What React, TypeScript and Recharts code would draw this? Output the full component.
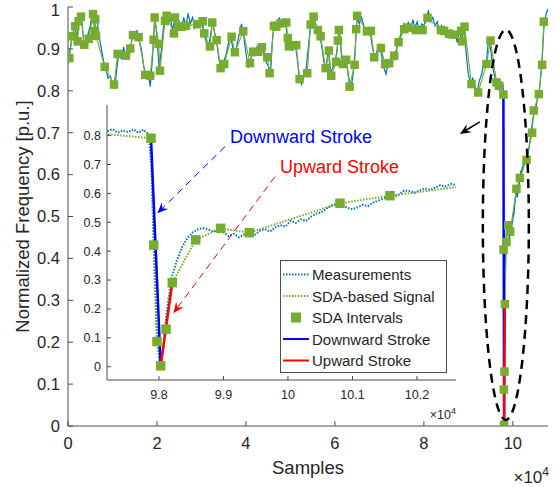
import React from 'react';
import { ComposedChart, Line, XAxis, YAxis, ReferenceLine, ReferenceDot, Legend, CartesianGrid } from 'recharts';

// measured frequency, one value every 500 samples (0 .. 97000)
const MEAS_STEP = 500;
const measCoarse = [
  0.865, 0.9, 0.935, 0.95, 0.925, 0.97, 0.985, 0.92, 0.905, 0.935,
  0.955, 0.99, 0.95, 0.975, 0.93, 0.9, 0.87, 0.855, 0.83, 0.835,
  0.82, 0.805, 0.855, 0.895, 0.875, 0.905, 0.875, 0.91, 0.89, 0.94,
  0.925, 0.945, 0.92, 0.9, 0.86, 0.835, 0.845, 0.81, 0.88, 0.975,
  0.93, 0.85, 0.9, 0.955, 0.985, 0.96, 0.975, 0.945, 0.97, 0.95,
  0.965, 0.945, 0.975, 0.955, 0.985, 0.96, 0.975, 0.95, 0.965, 0.955,
  0.97, 0.94, 0.92, 0.895, 0.93, 0.965, 0.935, 0.91, 0.87, 0.845,
  0.87, 0.885, 0.91, 0.935, 0.905, 0.885, 0.91, 0.935, 0.96, 0.93,
  0.89, 0.855, 0.87, 0.9, 0.885, 0.905, 0.885, 0.91, 0.89, 0.87,
  0.86, 0.835, 0.93, 0.965, 0.945, 0.975, 0.955, 0.97, 0.955, 0.91,
  0.92, 0.895, 0.915, 0.88, 0.83, 0.815, 0.835, 0.85, 0.9, 0.955,
  0.985, 0.965, 0.95, 0.935, 0.91, 0.87, 0.85, 0.9, 0.84, 0.855,
  0.865, 0.9, 0.95, 0.88, 0.865, 0.875, 0.84, 0.805, 0.83, 0.89,
  0.975, 0.96, 0.975, 0.955, 0.94, 0.95, 0.935, 0.9, 0.875, 0.895,
  0.91, 0.885, 0.855, 0.84, 0.87, 0.86, 0.885, 0.875, 0.905, 0.925,
  0.94, 0.96, 0.945, 0.965, 0.94, 0.97, 0.95, 0.965, 0.94, 0.96,
  0.955, 0.975, 0.99, 0.965, 0.975, 0.955, 0.965, 0.94, 0.955, 0.935,
  0.95, 0.925, 0.945, 0.93, 0.94, 0.915, 0.945, 0.92, 0.96, 0.89,
  0.84, 0.815, 0.83, 0.81, 0.8, 0.825, 0.84, 0.87, 0.86, 0.92,
  0.9, 0.855, 0.83, 0.82, 0.8,
];

// zoomed part around the disturbance
const measFineX = [
  97200, 97280, 97360, 97440, 97520, 97600, 97680, 97760, 97840, 97880,
  97920, 97960, 98000, 98030, 98060, 98100, 98150, 98200, 98280, 98360,
  98440, 98520, 98600, 98680, 98760, 98840, 98920, 99000, 99080, 99160,
  99240, 99320, 99400, 99480, 99560, 99640, 99720, 99800, 99880, 99960,
  100040, 100120, 100200, 100280, 100360, 100440, 100520, 100600, 100680, 100760,
  100840, 100920, 101000, 101080, 101160, 101240, 101320, 101400, 101480, 101560,
  101640, 101720, 101800, 101880, 101960, 102040, 102120, 102200, 102280, 102360,
  102440, 102520, 102600,
];
const measFineY = [
  0.816, 0.822, 0.81, 0.818, 0.812, 0.822, 0.81, 0.82, 0.805, 0.7,
  0.42, 0.15, 0.03, 0.0, 0.05, 0.15, 0.24, 0.31, 0.37, 0.415,
  0.445, 0.465, 0.475, 0.48, 0.475, 0.468, 0.472, 0.465, 0.452, 0.46,
  0.448, 0.458, 0.462, 0.455, 0.47, 0.476, 0.468, 0.482, 0.49, 0.485,
  0.505, 0.498, 0.51, 0.505, 0.52, 0.53, 0.535, 0.548, 0.558, 0.565,
  0.562, 0.55, 0.545, 0.552, 0.56, 0.556, 0.568, 0.575, 0.582, 0.59,
  0.588, 0.596, 0.61, 0.608, 0.602, 0.61, 0.618, 0.612, 0.62, 0.628,
  0.624, 0.632, 0.63,
];
const measTailX = [103000, 103500, 104000, 104500, 105000, 105500, 106000, 106500, 107000, 107500, 107900];
const measTailY = [0.64, 0.655, 0.69, 0.735, 0.75, 0.78, 0.805, 0.865, 0.955, 0.985, 0.995];

// SDA interval points
const sdaX = [
  290, 900, 1640, 2180, 2400, 2920, 3660, 4650, 5620, 6000, 6130, 6290, 8250, 10340, 11170,
  13030, 14000, 14610, 15890, 17370, 18490, 19260, 19480, 20380, 20670, 21800, 22180, 23820,
  24040, 24780, 25550, 26510, 29050, 30270, 30630, 31910, 32420, 33410, 34310, 35120, 36780,
  37520, 39390, 40900, 41640, 42760, 43590, 44780, 45320, 46290, 46810, 47790, 49050, 49430,
  49660, 51300, 52060, 53770, 54540, 55210, 56180, 56780, 57910, 58650, 59170, 60290, 60670,
  60890, 61790, 62530, 63300, 64420, 64780, 64990, 67190, 68090, 68830, 70330, 71300, 72200,
  73320, 74310, 75570, 76330, 78200, 79700, 80820, 83810, 84560, 85680, 86800, 88370, 88590,
  89140, 90710, 92190, 94080, 94980, 96330, 96840, 97876, 97918, 97969, 98026, 98109, 98206,
  98569, 98956, 99400, 100806, 101581, 103070, 104330, 104710, 105840, 106580, 106960,
];
const sdaY = [
  0.878, 0.93, 0.954, 0.918, 0.966, 0.977, 0.91, 0.924, 0.983, 0.943, 0.971, 0.931, 0.857, 0.815, 0.888,
  0.884, 0.901, 0.933, 0.928, 0.838, 0.836, 0.922, 0.975, 0.912, 0.848, 0.967, 0.979, 0.937,
  0.975, 0.953, 0.953, 0.955, 0.959, 0.966, 0.937, 0.906, 0.963, 0.921, 0.854, 0.864, 0.929,
  0.892, 0.942, 0.866, 0.893, 0.893, 0.904, 0.88, 0.842, 0.955, 0.953, 0.961, 0.963, 0.926,
  0.906, 0.909, 0.828, 0.842, 0.958, 0.977, 0.945, 0.93, 0.854, 0.896, 0.836, 0.869, 0.92,
  0.945, 0.864, 0.874, 0.81, 0.862, 0.947, 0.979, 0.942, 0.943, 0.88, 0.902, 0.864, 0.866,
  0.884, 0.916, 0.947, 0.951, 0.945, 0.945, 0.974, 0.945, 0.943, 0.936, 0.934, 0.943, 0.918,
  0.953, 0.816, 0.796, 0.864, 0.92, 0.82, 0.812, 0.791, 0.421, 0.087, 0.003, 0.13, 0.291,
  0.439, 0.479, 0.464, 0.566, 0.592, 0.635, 0.7, 0.753, 0.792, 0.862, 0.965,
];

const downStrokeX = [97876, 98026];
const downStrokeY = [0.791, 0.003];
const upStrokeX = [98026, 98206];
const upStrokeY = [0.003, 0.291];

const mainXTicks = [0, 20000, 40000, 60000, 80000, 100000];
const mainYTicks = [0, 0.1, 0.2, 0.3, 0.4, 0.5, 0.6, 0.7, 0.8, 0.9, 1];
const insetXTicks = [98000, 99000, 100000, 101000, 102000];
const insetYTicks = [0, 0.1, 0.2, 0.3, 0.4, 0.5, 0.6, 0.7, 0.8];

const legendLabels = ['Measurements', 'SDA-based Signal', 'SDA Intervals', 'Downward Stroke', 'Upward Stroke'];

const MAIN_X_DOMAIN = [0, 107900];
const INSET_X_DOMAIN = [97194, 102605];
const INSET_Y_DOMAIN = [-0.046, 0.906];

const MEAS_C = '#0072BD';
const SDA_C = '#77AC30';
const DOWN_C = '#0000FF';
const UP_C = '#FF0000';
const AXIS_C = '#4d4d4d';
const TEXT_C = '#262626';

const pts = (xs: number[], ys: number[]) => xs.map((x, i) => ({ x, y: ys[i] }));

const measurements = [
  ...measCoarse.map((y, i) => ({ x: i * MEAS_STEP, y })),
  ...pts(measFineX, measFineY),
  ...pts(measTailX, measTailY),
];
const insetMeas = pts(measFineX, measFineY);
const sda = pts(sdaX, sdaY);
const downStroke = pts(downStrokeX, downStrokeY);
const upStroke = pts(upStrokeX, upStrokeY);

const square = (size: number, xr?: number[]) => (p: any) => {
  if (p.cx == null || p.cy == null) return <g key={`e-${p.index}`} />;
  if (xr && (p.payload.x < xr[0] || p.payload.x > xr[1])) return <g key={`e-${p.index}`} />;
  return <rect key={`sq-${p.index}`} x={p.cx - size / 2} y={p.cy - size / 2} width={size} height={size} fill={SDA_C} />;
};

const arrowShape = (color: string, dash: string | undefined, width: number, len: number) => (p: any) => {
  const { x1, y1, x2, y2 } = p;
  const a = Math.atan2(y2 - y1, x2 - x1);
  const c = Math.cos(a);
  const s = Math.sin(a);
  const bx = x2 - len * c;
  const by = y2 - len * s;
  const nx = x2 - 0.65 * len * c;
  const ny = y2 - 0.65 * len * s;
  const w = len * 0.42;
  return (
    <g>
      <line x1={x1} y1={y1} x2={nx} y2={ny} stroke={color} strokeWidth={width} strokeDasharray={dash} />
      <polygon points={`${x2},${y2} ${bx - w * s},${by + w * c} ${nx},${ny} ${bx + w * s},${by - w * c}`} fill={color} />
    </g>
  );
};

const noteText = (label: string, color: string) => (p: any) => (
  <text x={p.cx} y={p.cy} fill={color} fontSize={18}>{label}</text>
);

function InsetLegend() {
  const rows = [14.5, 36, 57.5, 79, 100.5];
  return (
    <svg width={167} height={113} style={{ display: 'block' }}>
      <rect x={0.5} y={0.5} width={166} height={112} fill="#fff" stroke={AXIS_C} strokeWidth={1} />
      <line x1={3} x2={29} y1={rows[0]} y2={rows[0]} stroke={MEAS_C} strokeWidth={2} strokeDasharray="1.5 1.5" />
      <line x1={3} x2={29} y1={rows[1]} y2={rows[1]} stroke={SDA_C} strokeWidth={2} strokeDasharray="1.5 1.5" />
      <rect x={11} y={rows[2] - 5} width={10} height={10} fill={SDA_C} />
      <line x1={3} x2={29} y1={rows[3]} y2={rows[3]} stroke={DOWN_C} strokeWidth={2} />
      <line x1={3} x2={29} y1={rows[4]} y2={rows[4]} stroke={UP_C} strokeWidth={2} />
      {legendLabels.map((l, i) => (
        <text key={l} x={32} y={rows[i] + 5.5} fontSize={15} fill={TEXT_C}>{l}</text>
      ))}
    </svg>
  );
}

export default function App() {
  return (
    <div style={{ position: 'absolute', left: 0, top: 0, width: 559, height: 487, background: '#fff', fontFamily: '"Liberation Sans", Arial, sans-serif' }}>
      <ComposedChart width={559} height={487} margin={{ top: 7, right: 11, bottom: 0, left: 0 }}>
        <XAxis
          dataKey="x" type="number" domain={MAIN_X_DOMAIN} allowDataOverflow ticks={mainXTicks}
          tickFormatter={(v: number) => String(v / 10000)} tickSize={-5} tickMargin={16} height={61}
          stroke={AXIS_C} tick={{ fontSize: 16.5, fill: TEXT_C }}
          label={(p: any) => {
            const vb = p.viewBox || { x: 68, y: 426, width: 480 };
            return (
              <g>
                <text x={vb.x + vb.width / 2} y={vb.y + 48} textAnchor="middle" fontSize={18.5} fill={TEXT_C}>Samples</text>
                <text x={vb.x + vb.width + 1} y={vb.y + 57} textAnchor="end" fontSize={17} fill={TEXT_C}>
                  ×10<tspan dy={-7} fontSize={12}>4</tspan>
                </text>
              </g>
            );
          }}
        />
        <XAxis xAxisId="top" orientation="top" type="number" domain={MAIN_X_DOMAIN} allowDataOverflow ticks={mainXTicks} tick={false} tickSize={-5} height={0} stroke={AXIS_C} />
        <YAxis
          dataKey="y" type="number" domain={[0, 1]} allowDataOverflow ticks={mainYTicks}
          tickFormatter={(v: number) => String(v)} tickSize={-5} tickMargin={13} width={68}
          stroke={AXIS_C} tick={{ fontSize: 16.5, fill: TEXT_C }}
          label={(p: any) => {
            const vb = p.viewBox || { x: 0, y: 7, height: 419 };
            const cx = vb.x + 22;
            const cy = vb.y + vb.height / 2;
            return (
              <text x={cx} y={cy} transform={`rotate(-90 ${cx} ${cy})`} textAnchor="middle" dominantBaseline="central" fontSize={18.5} fill={TEXT_C}>
                Normalized Frequency [p.u.]
              </text>
            );
          }}
        />
        <YAxis yAxisId="right" orientation="right" type="number" domain={[0, 1]} allowDataOverflow ticks={mainYTicks} tick={false} tickSize={-5} width={0} stroke={AXIS_C} />
        <Line data={measurements} dataKey="y" stroke={MEAS_C} strokeWidth={1.2} dot={false} activeDot={false} isAnimationActive={false} />
        <Line data={sda} dataKey="y" stroke={SDA_C} strokeWidth={1.1} dot={square(8.5)} activeDot={false} isAnimationActive={false} />
        <Line data={downStroke} dataKey="y" stroke={DOWN_C} strokeWidth={2.5} dot={false} activeDot={false} isAnimationActive={false} />
        <Line data={upStroke} dataKey="y" stroke={UP_C} strokeWidth={2.5} dot={false} activeDot={false} isAnimationActive={false} />
        <ReferenceDot x={98420} y={0.48} r={1} shape={(p: any) => (
          <ellipse cx={p.cx} cy={p.cy} rx={23} ry={195} fill="none" stroke="#000" strokeWidth={2.5} strokeDasharray="9 6" />
        )} />
        <ReferenceLine segment={[{ x: 92580, y: 0.726 }, { x: 88080, y: 0.697 }]} shape={arrowShape('#000', undefined, 1.5, 11)} />
      </ComposedChart>

      <div style={{ position: 'absolute', left: 80, top: 100 }}>
        <ComposedChart width={380} height={330} margin={{ top: 5, right: 4, bottom: 0, left: 0 }}>
          <CartesianGrid fill="#fff" horizontal={false} vertical={false} />
          <XAxis
            dataKey="x" type="number" domain={INSET_X_DOMAIN} allowDataOverflow ticks={insetXTicks}
            tickFormatter={(v: number) => String(v / 10000)} tickSize={-4} tickMargin={14} height={50}
            stroke={AXIS_C} tick={{ fontSize: 12.5, fill: TEXT_C }}
            label={(p: any) => {
              const vb = p.viewBox || { x: 27, y: 275, width: 349 };
              return (
                <text x={vb.x + vb.width} y={vb.y + 39} textAnchor="end" fontSize={12.5} fill={TEXT_C}>
                  ×10<tspan dy={-5} fontSize={9}>4</tspan>
                </text>
              );
            }}
          />
          <XAxis xAxisId="top" orientation="top" type="number" domain={INSET_X_DOMAIN} allowDataOverflow ticks={insetXTicks} tick={false} tickSize={-4} height={0} stroke={AXIS_C} />
          <YAxis
            dataKey="y" type="number" domain={INSET_Y_DOMAIN} allowDataOverflow ticks={insetYTicks}
            tickFormatter={(v: number) => String(v)} tickSize={-4} tickMargin={10} width={27}
            stroke={AXIS_C} tick={{ fontSize: 12.5, fill: TEXT_C }}
          />
          <YAxis yAxisId="right" orientation="right" type="number" domain={INSET_Y_DOMAIN} allowDataOverflow ticks={insetYTicks} tick={false} tickSize={-4} width={0} stroke={AXIS_C} />
          <Line data={insetMeas} dataKey="y" stroke={MEAS_C} strokeWidth={2} strokeDasharray="1.5 1.5" dot={false} activeDot={false} isAnimationActive={false} />
          <Line data={sda} dataKey="y" stroke={SDA_C} strokeWidth={2} strokeDasharray="1.5 1.5" dot={square(9.5, INSET_X_DOMAIN)} activeDot={false} isAnimationActive={false} />
          <Line data={downStroke} dataKey="y" stroke={DOWN_C} strokeWidth={2.5} dot={false} activeDot={false} isAnimationActive={false} />
          <Line data={upStroke} dataKey="y" stroke={UP_C} strokeWidth={2.5} dot={false} activeDot={false} isAnimationActive={false} />
          <ReferenceLine segment={[{ x: 99023, y: 0.762 }, { x: 97974, y: 0.531 }]} shape={arrowShape(DOWN_C, '7 5', 1, 11)} />
          <ReferenceLine segment={[{ x: 99798, y: 0.658 }, { x: 98222, y: 0.185 }]} shape={arrowShape(UP_C, '7 5', 1, 11)} />
          <ReferenceDot x={99100} y={0.775} r={1} shape={noteText('Downward Stroke', DOWN_C)} />
          <ReferenceDot x={99876} y={0.669} r={1} shape={noteText('Upward Stroke', UP_C)} />
          <Legend
            layout="horizontal" verticalAlign="middle" align="center"
            wrapperStyle={{ position: 'absolute', left: 200, top: 160, width: 167, height: 113 }}
            content={() => <InsetLegend />}
          />
        </ComposedChart>
      </div>
    </div>
  );
}
